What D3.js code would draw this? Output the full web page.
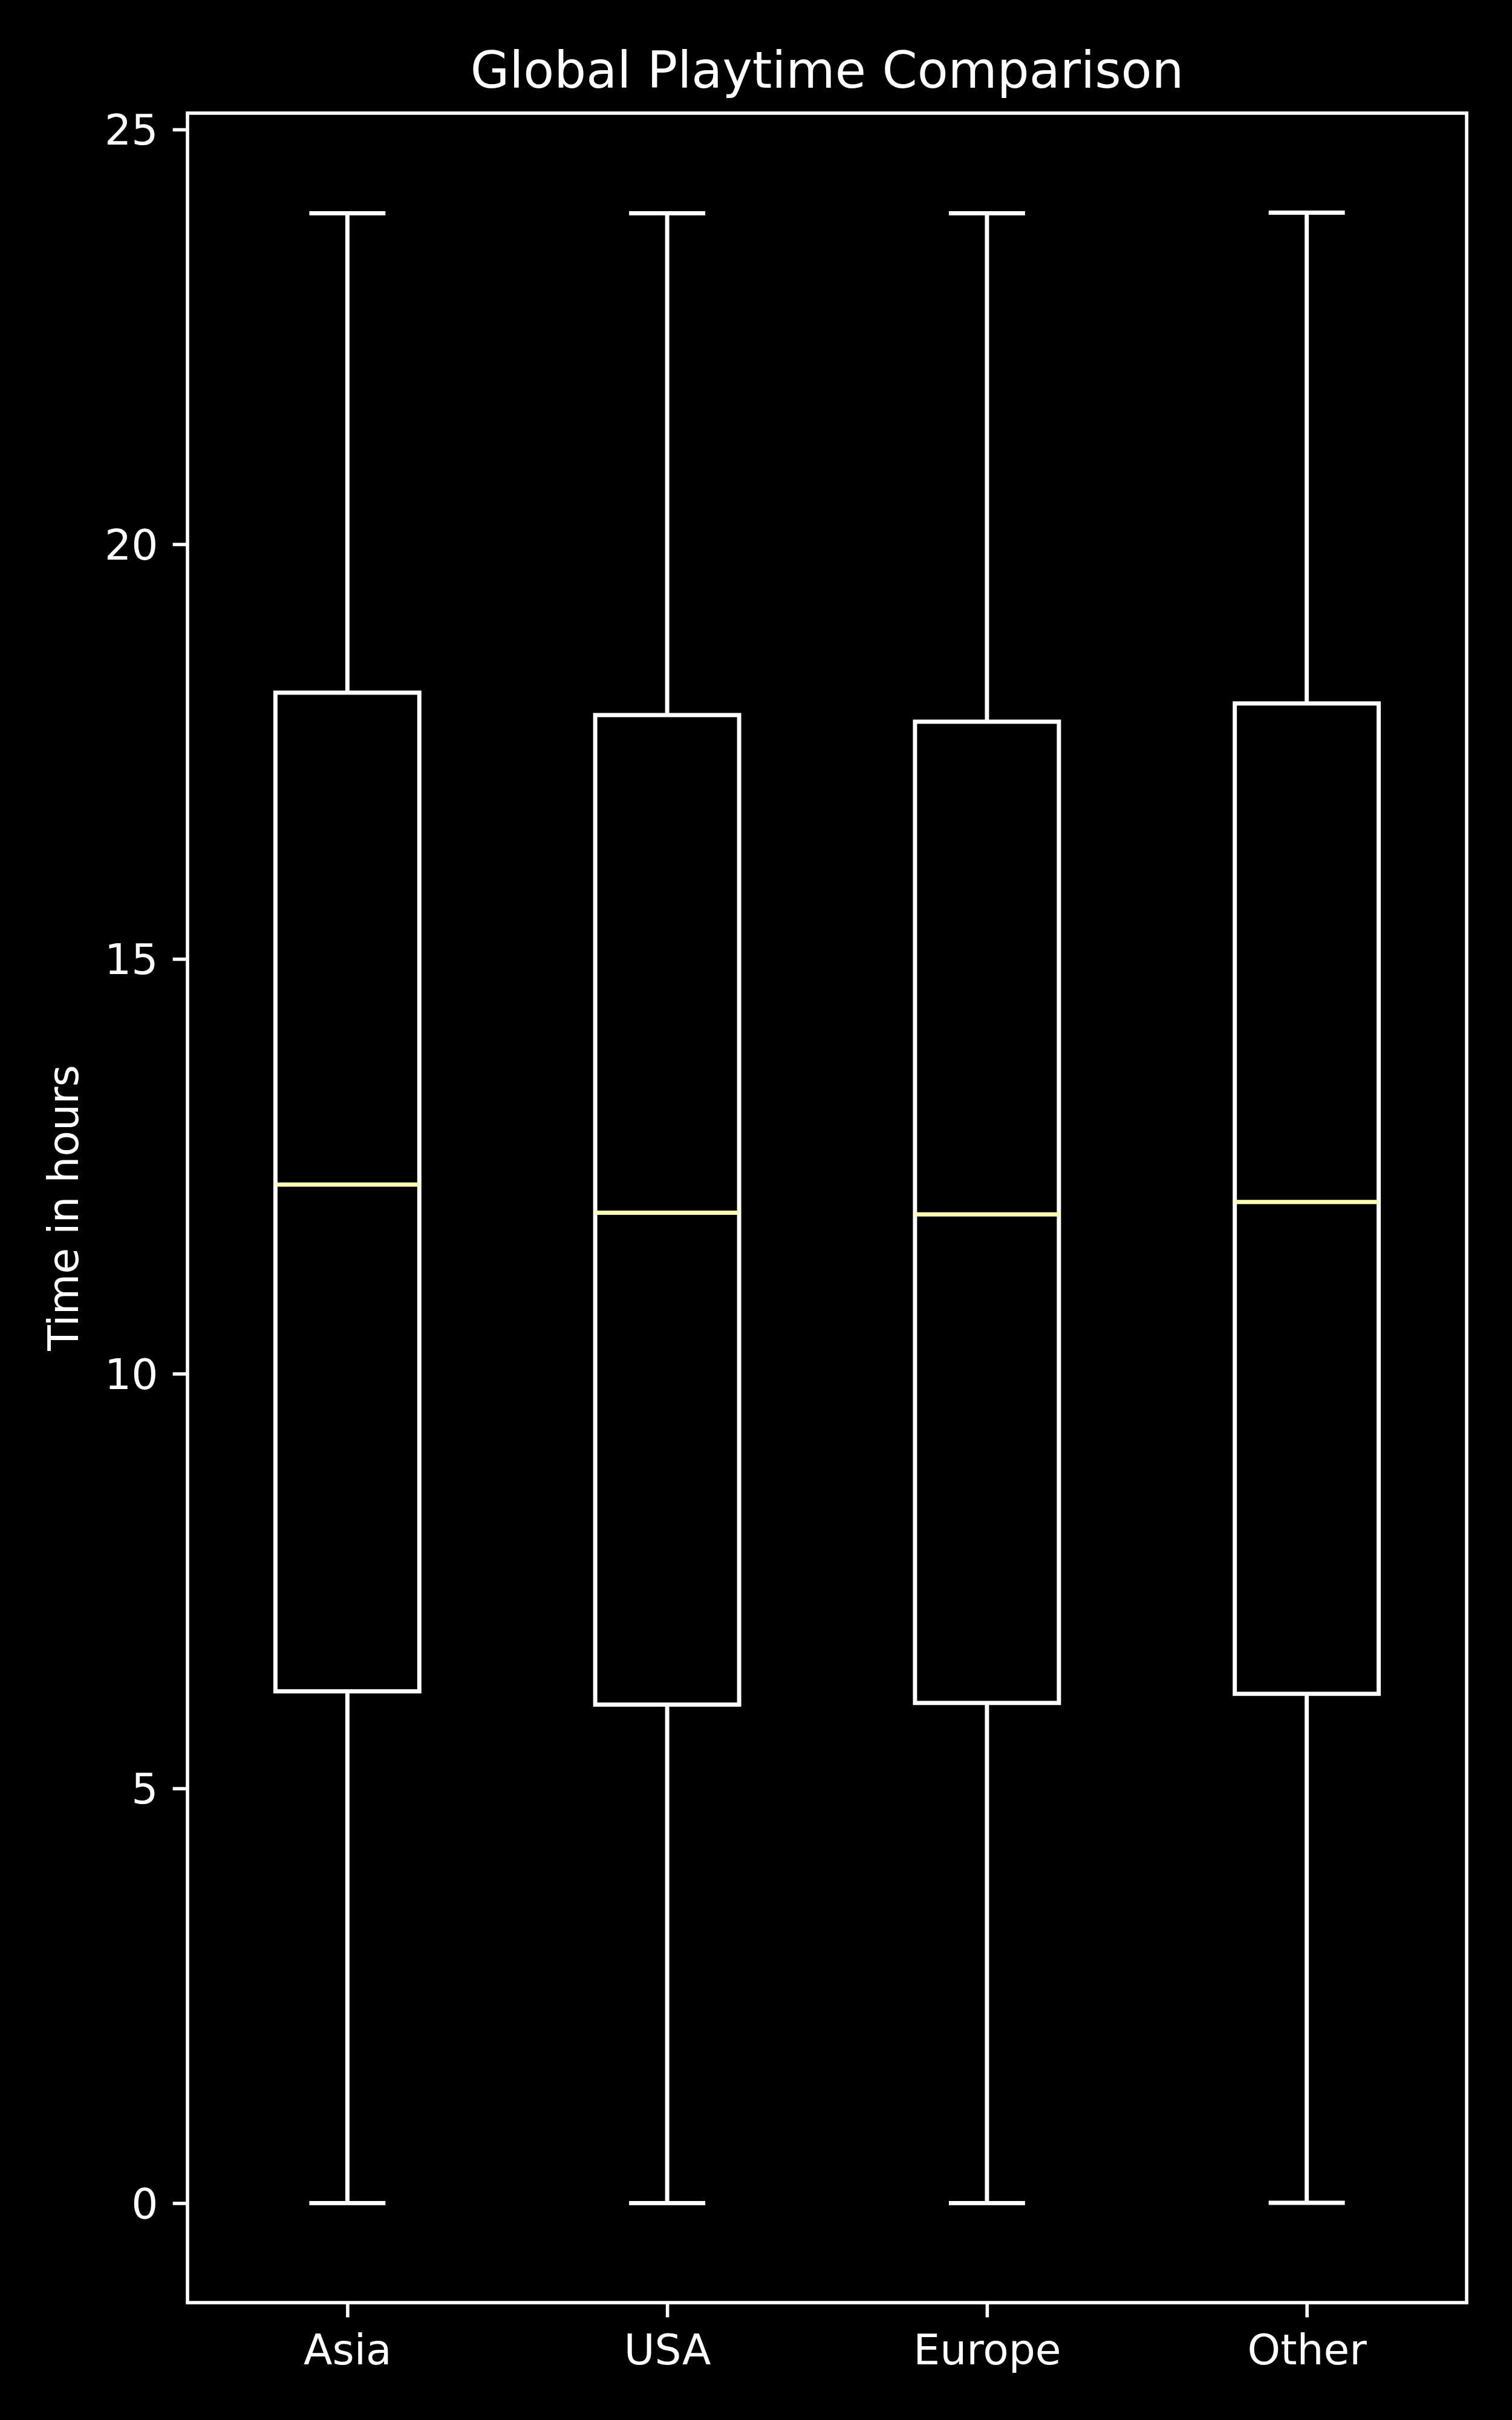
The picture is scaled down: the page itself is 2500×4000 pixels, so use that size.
<!DOCTYPE html>
<html>
<head>
<meta charset="utf-8">
<script src="https://cdn.jsdelivr.net/npm/d3@7"></script>
<style>
  html, body { margin: 0; padding: 0; background: #000; }
  svg { display: block; }
  text { font-family: "DejaVu Sans", sans-serif; fill: #fff; }
</style>
</head>
<body>
<script>
// ---- Data ----
const categories = ["Asia", "USA", "Europe", "Other"];
const whiskerLow  = [0.00, 0.00, 0.00, 0.004];
const q1Values    = [6.17, 6.01, 6.03, 6.14];
const medians     = [12.28, 11.94, 11.92, 12.07];
const q3Values    = [18.21, 17.94, 17.86, 18.08];
const whiskerHigh = [23.99, 23.99, 23.99, 23.997];
const yTicks = [0, 5, 10, 15, 20, 25];
const titleText = "Global Playtime Comparison";
const yLabelText = "Time in hours";

(function () {
// ---- Layout ----
const W = 2500, H = 4000;
const pLeft = 310, pRight = 2425, pTop = 187, pBottom = 3806;
const pt = 500 / 72;               // one point in px
const boxLW = 1.0 * pt, spineLW = 0.8 * pt, tickLen = 3.5 * pt, tickPad = 3.5 * pt;
const fontTick = 10 * pt, fontTitle = 12 * pt;
const medianColor = "#feffb3";

const data = categories.map((c, i) => ({
  cat: c, lo: whiskerLow[i], q1: q1Values[i], med: medians[i], q3: q3Values[i], hi: whiskerHigh[i]
}));

const svg = d3.select("body").append("svg")
  .attr("width", W).attr("height", H);
svg.append("rect").attr("width", W).attr("height", H).attr("fill", "#000");

const x = d3.scalePoint().domain(categories).range([pLeft, pRight]).padding(0.5);
const step = x.step();
const dMin = d3.min(whiskerLow), dMax = d3.max(whiskerHigh);
const margin = (dMax - dMin) * 0.05;
const y = d3.scaleLinear().domain([dMin - margin, dMax + margin]).range([pBottom, pTop]);

const boxW = 0.45 * step, capW = boxW / 2;

// ---- Boxes ----
const g = svg.append("g");
data.forEach(d => {
  const cx = x(d.cat);
  g.append("line").attr("x1", cx).attr("x2", cx).attr("y1", y(d.q1)).attr("y2", y(d.lo))
    .attr("stroke", "#fff").attr("stroke-width", boxLW);
  g.append("line").attr("x1", cx).attr("x2", cx).attr("y1", y(d.q3)).attr("y2", y(d.hi))
    .attr("stroke", "#fff").attr("stroke-width", boxLW);
  [d.lo, d.hi].forEach(v => {
    g.append("line").attr("x1", cx - capW / 2).attr("x2", cx + capW / 2)
      .attr("y1", y(v)).attr("y2", y(v))
      .attr("stroke", "#fff").attr("stroke-width", boxLW).attr("stroke-linecap", "square");
  });
  g.append("rect").attr("x", cx - boxW / 2).attr("width", boxW)
    .attr("y", y(d.q3)).attr("height", y(d.q1) - y(d.q3))
    .attr("fill", "none").attr("stroke", "#fff").attr("stroke-width", boxLW);
  g.append("line").attr("x1", cx - boxW / 2).attr("x2", cx + boxW / 2)
    .attr("y1", y(d.med)).attr("y2", y(d.med))
    .attr("stroke", medianColor).attr("stroke-width", boxLW);
});

// ---- Axes ----
const yAxis = d3.axisLeft(y).tickValues(yTicks).tickFormat(d3.format("d"))
  .tickSize(tickLen).tickPadding(tickPad);
const ya = svg.append("g").attr("transform", `translate(${pLeft},0)`).call(yAxis);
ya.select(".domain").remove();
ya.selectAll(".tick line").attr("stroke", "#fff").attr("stroke-width", spineLW);
ya.selectAll(".tick text").attr("fill", "#fff").style("font-family", "DejaVu Sans")
  .style("font-size", fontTick + "px").attr("dy", "0.36em");

const xAxis = d3.axisBottom(x).tickSize(tickLen).tickPadding(tickPad);
const xa = svg.append("g").attr("transform", `translate(0,${pBottom})`).call(xAxis);
xa.select(".domain").remove();
xa.selectAll(".tick line").attr("stroke", "#fff").attr("stroke-width", spineLW);
xa.selectAll(".tick text").attr("fill", "#fff").style("font-family", "DejaVu Sans")
  .style("font-size", fontTick + "px").attr("dy", null)
  .attr("y", 3908 - pBottom);

svg.append("rect").attr("x", pLeft).attr("y", pTop)
  .attr("width", pRight - pLeft).attr("height", pBottom - pTop)
  .attr("fill", "none").attr("stroke", "#fff").attr("stroke-width", spineLW);

// ---- Labels ----
svg.append("text").attr("x", (pLeft + pRight) / 2).attr("y", pTop - 6 * pt)
  .attr("text-anchor", "middle").style("font-size", fontTitle + "px").text(titleText);

svg.append("text")
  .attr("transform", `translate(129,${(pTop + pBottom) / 2}) rotate(-90)`)
  .attr("text-anchor", "middle").style("font-size", fontTick + "px").text(yLabelText);
})();
</script>
</body>
</html>
